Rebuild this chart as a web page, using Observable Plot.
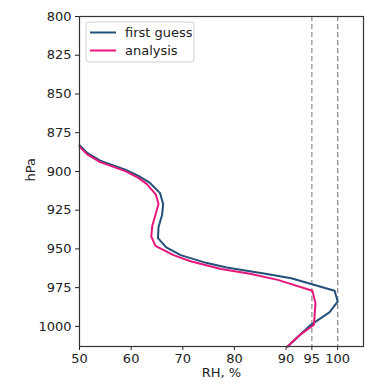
<!DOCTYPE html>
<html>
<head>
<meta charset="utf-8">
<script src="https://cdn.jsdelivr.net/npm/d3@7"></script>
<script src="https://cdn.jsdelivr.net/npm/@observablehq/plot@0.6"></script>
<style>
  html, body { margin: 0; padding: 0; background: #fff; }
  #chart svg { display: block; }
</style>
</head>
<body>
<div id="chart"></div>
<script>
// Data
const seriesNames = ["first guess", "analysis"];
const seriesColors = ["#24507a", "#e6177a"];

const fgPressure = [883, 888, 893, 899, 903, 907, 914, 921, 928, 936, 943, 949, 954, 959, 962, 966, 969, 977, 984, 991, 999, 1006, 1013];
const fgRH       = [50.0, 51.5, 54.0, 59.0, 61.5, 63.5, 65.6, 66.2, 66.0, 65.3, 65.2, 66.8, 69.6, 74.5, 78.5, 86.0, 91.0, 99.4, 100.0, 98.4, 94.8, 92.5, 90.3];

const anPressure = [884, 889, 894, 900, 904, 908, 915, 921, 927, 935, 942, 948, 954, 958, 963, 966, 970, 977, 985, 999, 1005, 1013];
const anRH       = [50.0, 51.5, 54.0, 59.0, 61.3, 63.0, 64.8, 65.3, 64.8, 64.1, 63.9, 64.7, 68.2, 71.5, 77.4, 83.0, 88.4, 95.1, 95.7, 95.4, 92.9, 90.3];

const refLines = [95, 100];
const xTicks = [50, 60, 70, 80, 90, 95, 100];
const yTicks = [800, 825, 850, 875, 900, 925, 950, 975, 1000];
const xDomain = [50, 105];
const yDomain = [800, 1013];

const fg = fgPressure.map((p, i) => ({p, rh: fgRH[i], s: seriesNames[0]}));
const an = anPressure.map((p, i) => ({p, rh: anRH[i], s: seriesNames[1]}));

const font = "DejaVu Sans, sans-serif";

const chart = Plot.plot({
  width: 367,
  height: 383,
  marginLeft: 79,
  marginRight: 4,
  marginTop: 16,
  marginBottom: 37,
  style: {fontFamily: font, fontSize: "13px", background: "#fff", color: "#222"},
  x: {domain: xDomain},
  y: {domain: yDomain, reverse: true},
  marks: [
    Plot.ruleX(refLines, {stroke: "#888", strokeWidth: 1.2, strokeDasharray: "5,3"}),
    Plot.line(fg, {x: "rh", y: "p", stroke: seriesColors[0], strokeWidth: 2}),
    Plot.line(an, {x: "rh", y: "p", stroke: seriesColors[1], strokeWidth: 2}),
    Plot.axisX({ticks: xTicks, tickFormat: d => String(d), tickSize: 4, tickPadding: 3, label: null, fontSize: 13}),
    Plot.axisY({ticks: yTicks, tickFormat: d => String(d), tickSize: 4, tickPadding: 4, label: null, fontSize: 13}),
    Plot.text(["RH, %"], {frameAnchor: "bottom", dy: 26, lineAnchor: "middle", fontSize: 13}),
    Plot.text(["hPa"], {frameAnchor: "left", dx: -49, rotate: -90, fontSize: 13}),
    Plot.frame({stroke: "#333", strokeWidth: 1.2})
  ]
});

document.getElementById("chart").appendChild(chart);

// Legend (upper-left inside the frame)
const svg = d3.select(chart);
const lg = svg.append("g").attr("transform", "translate(86,22)");
lg.append("rect")
  .attr("width", 108).attr("height", 40).attr("rx", 3)
  .attr("fill", "#fff").attr("fill-opacity", 0.8)
  .attr("stroke", "#d0d0d0");
seriesNames.forEach((name, i) => {
  const y = 10.5 + i * 18;
  lg.append("line").attr("x1", 4).attr("x2", 30).attr("y1", y).attr("y2", y)
    .attr("stroke", seriesColors[i]).attr("stroke-width", 2);
  lg.append("text").attr("x", 39).attr("y", y).attr("dy", "0.35em")
    .attr("text-anchor", "start")
    .attr("font-family", font).attr("font-size", 13).attr("fill", "#222")
    .text(name);
});
</script>
</body>
</html>
